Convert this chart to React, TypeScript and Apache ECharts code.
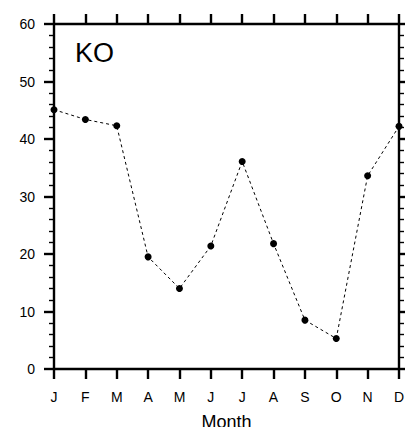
import React, { useEffect, useRef } from "react";
import * as echarts from "echarts";

const months = ["J", "F", "M", "A", "M", "J", "J", "A", "S", "O", "N", "D"];
const values = [45.1, 43.4, 42.3, 19.5, 14.0, 21.4, 36.1, 21.8, 8.5, 5.3, 33.6, 42.2];
const yMin = 0;
const yMax = 60;
const yInterval = 10;
const titleText = "KO";
const xName = "Month";

const FONT = "'Liberation Sans', Arial, Helvetica, sans-serif";

export default function App() {
  const ref = useRef<HTMLDivElement>(null);
  useEffect(() => {
    if (!ref.current) return;
    const chart = echarts.init(ref.current, undefined, { renderer: "svg" });
    const axisLine = { show: true, onZero: false, lineStyle: { color: "#000", width: 2.4 } };
    const majorTick = { show: true, inside: false, length: 10, lineStyle: { color: "#000", width: 2.4 } };
    const minorTick = { show: true, splitNumber: 5, length: 5, lineStyle: { color: "#000", width: 1.4 } };
    chart.setOption({
      animation: false,
      backgroundColor: "#fff",
      textStyle: { fontFamily: FONT },
      grid: {
        left: 54,
        right: 6,
        top: 24,
        bottom: 58,
        containLabel: false,
        outerBoundsMode: "none",
      },
      graphic: [
        {
          type: "text",
          left: 75,
          top: 39,
          style: { text: titleText, fontSize: 27, fontFamily: FONT, fill: "#000" },
        },
      ],
      xAxis: [
        {
          type: "category",
          data: months,
          boundaryGap: false,
          position: "bottom",
          axisLine,
          axisTick: { ...majorTick, alignWithLabel: true, interval: 0 },
          axisLabel: { show: true, interval: 0, color: "#000", fontSize: 14, fontFamily: FONT, margin: 21 },
          splitLine: { show: false },
          name: xName,
          nameLocation: "middle",
          nameGap: 44,
          nameTextStyle: { color: "#000", fontSize: 18, fontFamily: FONT },
        },
        {
          type: "category",
          data: months,
          boundaryGap: false,
          position: "top",
          axisLine,
          axisTick: { ...majorTick, interval: 0 },
          axisLabel: { show: false },
          splitLine: { show: false },
        },
      ],
      yAxis: [
        {
          type: "value",
          min: yMin,
          max: yMax,
          interval: yInterval,
          position: "left",
          axisLine,
          axisTick: majorTick,
          minorTick,
          axisLabel: { show: true, color: "#000", fontSize: 14, fontFamily: FONT, margin: 19 },
          splitLine: { show: false },
          minorSplitLine: { show: false },
        },
        {
          type: "value",
          min: yMin,
          max: yMax,
          interval: yInterval,
          position: "right",
          axisLine,
          axisTick: majorTick,
          minorTick,
          axisLabel: { show: false },
          splitLine: { show: false },
          minorSplitLine: { show: false },
        },
      ],
      series: [
        {
          type: "line",
          data: values,
          xAxisIndex: 0,
          yAxisIndex: 0,
          symbol: "circle",
          symbolSize: 7,
          showSymbol: true,
          itemStyle: { color: "#000" },
          lineStyle: { color: "#000", width: 1, type: [3, 3] },
          clip: false,
          z: 5,
        },
      ],
    });
    return () => chart.dispose();
  }, []);
  return (
    <div
      ref={ref}
      style={{ position: "fixed", left: 0, top: 0, width: 405, height: 427 }}
    />
  );
}
